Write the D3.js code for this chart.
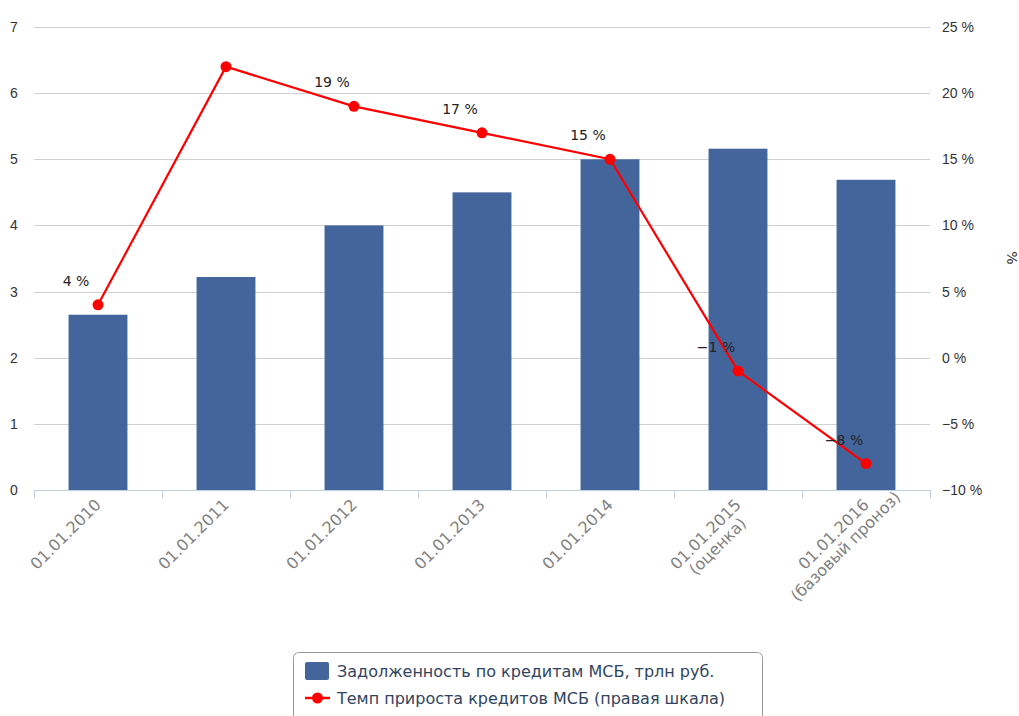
<!DOCTYPE html>
<html>
<head>
<meta charset="utf-8">
<script src="https://cdnjs.cloudflare.com/ajax/libs/d3/7.8.5/d3.min.js"></script>
<style>
  html, body { margin: 0; padding: 0; background: #fff; }
  svg { display: block; font-family: "DejaVu Sans", Verdana, sans-serif; }
</style>
</head>
<body>
<svg id="chart" width="1019" height="716"></svg>
<script>
// Dates on the category axis
const categories = [
  "01.01.2010", "01.01.2011", "01.01.2012", "01.01.2013",
  "01.01.2014", "01.01.2015\n(оценка)", "01.01.2016\n(базовый проноз)"
];
// SME loan debt, trillion rubles (left axis)
const debt = [2.65, 3.22, 4.0, 4.5, 5.0, 5.16, 4.69];
// SME credit growth rate, % (right axis)
const growth = [4, 22, 19, 17, 15, -1, -8];
// Which growth points carry a value label
const growthLabelled = [true, false, true, true, true, true, true];
const leftTicks = [0, 1, 2, 3, 4, 5, 6, 7];
const rightTicks = [-10, -5, 0, 5, 10, 15, 20, 25];
const seriesNames = [
  "Задолженность по кредитам МСБ, трлн руб.",
  "Темп прироста кредитов МСБ (правая шкала)"
];

const svg = d3.select("#chart");
const plotL = 34, plotR = 930, plotT = 27, plotB = 490;

const x = d3.scaleBand().domain(categories).range([plotL, plotR]).paddingInner(0.54).paddingOuter(0.27);
const yL = d3.scaleLinear().domain([0, 7]).range([plotB, plotT]);
const yR = d3.scaleLinear().domain([-10, 25]).range([plotB, plotT]);
const pct = d => (d < 0 ? "\u2212" + Math.abs(d) : d) + " %";

// gridlines
svg.append("g").selectAll("line").data(leftTicks.filter(d => d > 0)).join("line")
  .attr("x1", plotL).attr("x2", plotR)
  .attr("y1", d => Math.round(yL(d)) + 0.5).attr("y2", d => Math.round(yL(d)) + 0.5)
  .attr("stroke", "#d0d0d0").attr("stroke-width", 1);

// bars
svg.append("g").selectAll("rect").data(debt).join("rect")
  .attr("x", (d, i) => x(categories[i]))
  .attr("width", x.bandwidth())
  .attr("y", d => yL(d))
  .attr("height", d => yL(0) - yL(d))
  .attr("fill", "#44659c");

// left axis
const gL = svg.append("g").attr("transform", `translate(${plotL},0)`)
  .call(d3.axisLeft(yL).tickValues(leftTicks).tickSize(0).tickFormat(d3.format("d")));
gL.select(".domain").remove();
gL.selectAll("text").attr("font-size", 14).attr("fill", "#333").attr("text-anchor", "start").attr("x", -24);

// right axis
const gR = svg.append("g").attr("transform", `translate(${plotR},0)`)
  .call(d3.axisRight(yR).tickValues(rightTicks).tickSize(0).tickPadding(12).tickFormat(pct));
gR.select(".domain").remove();
gR.selectAll("text").attr("font-size", 14).attr("fill", "#333");

// right axis title
svg.append("text").attr("transform", "translate(1007,258) rotate(90)")
  .attr("text-anchor", "middle").attr("font-size", 14).attr("fill", "#333").text("%");

// category axis
const bx = d3.scaleLinear().domain([0, categories.length]).range([plotL, plotR]);
const gX = svg.append("g");
gX.append("line").attr("x1", plotL).attr("x2", plotR).attr("y1", plotB + 0.5).attr("y2", plotB + 0.5)
  .attr("stroke", "#c0d0e0");
gX.selectAll("line.tick").data(d3.range(categories.length + 1)).join("line")
  .attr("class", "tick")
  .attr("x1", d => Math.round(bx(d)) + 0.5).attr("x2", d => Math.round(bx(d)) + 0.5)
  .attr("y1", plotB).attr("y2", plotB + 8)
  .attr("stroke", "#c0d0e0");
const lbl = gX.selectAll("text").data(categories).join("text")
  .attr("transform", d => `translate(${x(d) + x.bandwidth() / 2 + 1},${plotB + 13}) rotate(-45)`)
  .attr("font-size", 16).attr("fill", "#808080");
lbl.each(function (d) {
  const lines = d.split("\n");
  const t = d3.select(this);
  const spans = lines.map((s, i) =>
    t.append("tspan").attr("x", 0).attr("dy", i === 0 ? 4 : 17)
      .attr("text-anchor", "middle").text(s));
  // first line ends at the tick; further lines are centred under it
  const w0 = spans[0].node().getComputedTextLength();
  spans.forEach(sp => sp.attr("x", -w0 / 2));
});

// growth line
const cx = (d, i) => x(categories[i]) + x.bandwidth() / 2;
const line = d3.line().x((d, i) => cx(d, i)).y(d => yR(d));
svg.append("path").datum(growth).attr("d", line)
  .attr("fill", "none").attr("stroke", "#ff0000").attr("stroke-width", 2.2);
svg.append("g").selectAll("circle").data(growth).join("circle")
  .attr("cx", cx).attr("cy", d => yR(d)).attr("r", 5.5).attr("fill", "#ff0000");

// value labels
svg.append("g").selectAll("text").data(growth.map((v, i) => ({ v, i })).filter(d => growthLabelled[d.i])).join("text")
  .attr("x", d => cx(d.v, d.i) - 22).attr("y", d => yR(d.v) - 19)
  .attr("text-anchor", "middle").attr("font-size", 14).attr("fill", "#222")
  .text(d => pct(d.v));

// legend
const lg = svg.append("g");
lg.append("rect").attr("x", 293.5).attr("y", 652.5).attr("width", 469).attr("height", 80)
  .attr("rx", 5).attr("fill", "#fff").attr("stroke", "#999");
lg.append("rect").attr("x", 305).attr("y", 662).attr("width", 24).attr("height", 18).attr("rx", 2).attr("fill", "#44659c");
lg.append("line").attr("x1", 305).attr("x2", 330).attr("y1", 698).attr("y2", 698).attr("stroke", "#ff0000").attr("stroke-width", 2.5);
lg.append("circle").attr("cx", 317.5).attr("cy", 698).attr("r", 5.5).attr("fill", "#ff0000");
lg.selectAll("text.lt").data(seriesNames).join("text").attr("class", "lt")
  .attr("x", 337).attr("y", (d, i) => 677 + i * 27)
  .attr("font-size", 16).attr("fill", "#2f4560").text(d => d);
</script>
</body>
</html>
